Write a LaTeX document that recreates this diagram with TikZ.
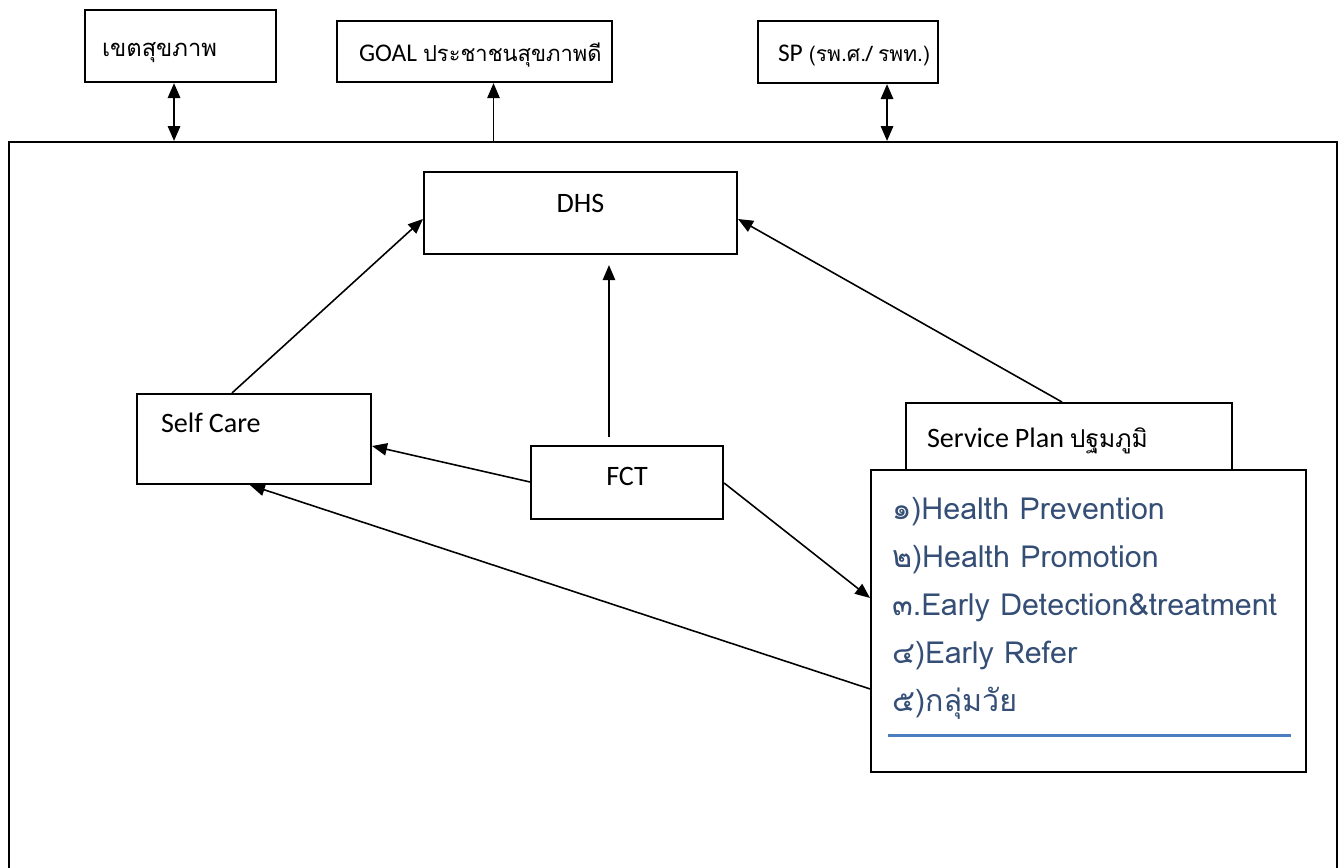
\documentclass[tikz,border=0pt]{standalone}
\usepackage{fontspec}
\setmainfont{Carlito}
\newfontfamily\thai[Script=Thai]{Loma}
\usetikzlibrary{arrows.meta}

\definecolor{listtext}{RGB}{52,78,118}
\definecolor{listrule}{RGB}{74,126,193}

\tikzset{
	box/.style={draw, line width=1.2pt, fill=white, anchor=north west, inner ysep=0pt, align=left},
	link/.style={-{Triangle[length=8.5pt,width=7pt]}, line width=0.9pt},
	both/.style={{Triangle[length=8.5pt,width=7pt]}-{Triangle[length=8.5pt,width=7pt]}, line width=1.2pt},
}
\newcommand{\toprowfont}{\fontsize{14.5pt}{18pt}\selectfont}
\newcommand{\boxfont}{\fontsize{16pt}{19pt}\selectfont}
\newcommand{\thaitext}[2][12pt]{{\thai\fontsize{#1}{17pt}\selectfont #2}}

\begin{document}
\begin{tikzpicture}[x=0.02cm, y=-0.02cm]
	\useasboundingbox (0,0) rectangle (1343,868);

	% outer frame, runs off the bottom of the page
	\node[box, minimum width=26.56cm, minimum height=14.9cm] (district) at (8,141) {};

	% boxes above the frame
	\node[box, inner xsep=0.34cm, text width=3.14cm, text height=0.92cm, text depth=0.52cm] (zone) at (84,9) {\mbox{\thaitext[13.5pt]{เขตสุขภาพ}}};
	\node[box, inner xsep=0.44cm, text width=4.62cm, text height=0.80cm, text depth=0.42cm] (goal) at (336,20) {\mbox{\toprowfont GOAL \thaitext[12.5pt]{ประชาชนสุขภาพดี}}};
	\node[box, inner xsep=0.40cm, text width=2.80cm, text height=0.80cm, text depth=0.44cm] (sp) at (757,20) {\mbox{\toprowfont SP \thaitext{(รพ.ศ./ รพท.)}}};

	% boxes inside the frame
	\node[box, align=center, inner xsep=0.3cm, text width=5.66cm, text height=0.80cm, text depth=0.84cm] (dhs) at (423,171) {\boxfont DHS};
	\node[box, inner xsep=0.48cm, text width=3.72cm, text height=0.76cm, text depth=1.04cm] (self care) at (136,393) {\boxfont Self Care};
	\node[box, align=center, inner xsep=0.3cm, text width=3.24cm, text height=0.78cm, text depth=0.68cm] (fct) at (530,445) {\boxfont FCT};
	\node[box, inner xsep=0.42cm, text width=5.68cm, text height=0.88cm, text depth=0.48cm] (service plan) at (905,402) {\mbox{\boxfont Service Plan \thaitext[14pt]{ปฐมภูมิ}}};
	\node[box, inner xsep=0.42cm, text height=0.98cm, text depth=5.06cm, text=listtext] (plan list) at (870,469)
		{\parbox[t]{7.86cm}{\thai\fontsize{17.3pt}{27.4pt}\selectfont
			๑)Health Prevention\\
			๒)Health Promotion\\
			๓.Early Detection\&treatment\\
			๔)Early Refer\\
			๕)กลุ่มวัย}};
	\draw[listrule, line width=1.7pt] ([xshift=0.36cm, yshift=0.76cm]plan list.south west) -- ([xshift=-0.32cm, yshift=0.76cm]plan list.south east);

	% links to the boxes above
	\draw[both] ([xshift=-0.13cm]zone.south) -- ([xshift=-0.13cm]zone.south |- district.north);
	\draw[link] ([xshift=0.38cm]goal.south |- district.north) -- ([xshift=0.38cm]goal.south);
	\draw[both] ([xshift=0.78cm]sp.south) -- ([xshift=0.78cm]sp.south |- district.north);

	% links inside the frame
	\draw[link] ([xshift=1.92cm]self care.north west) -- ([yshift=-0.96cm]dhs.north west);
	\draw[link, shorten <=0.16cm, shorten >=0.2cm] ([xshift=1.58cm]fct.north west) -- ([xshift=1.58cm]fct.north west |- dhs.south);
	\draw[link] ([xshift=3.14cm]service plan.north west) -- ([yshift=-0.96cm]dhs.north east);
	\draw[link] ([yshift=-0.74cm]fct.north west) -- ([yshift=-1.06cm]self care.north east);
	\draw[link] ([yshift=-0.76cm]fct.north east) -- ([yshift=-2.58cm]plan list.north west);
	\draw[link] ([yshift=-4.4cm]plan list.north west) -- ([xshift=2.28cm]self care.south west);
\end{tikzpicture}
\end{document}
